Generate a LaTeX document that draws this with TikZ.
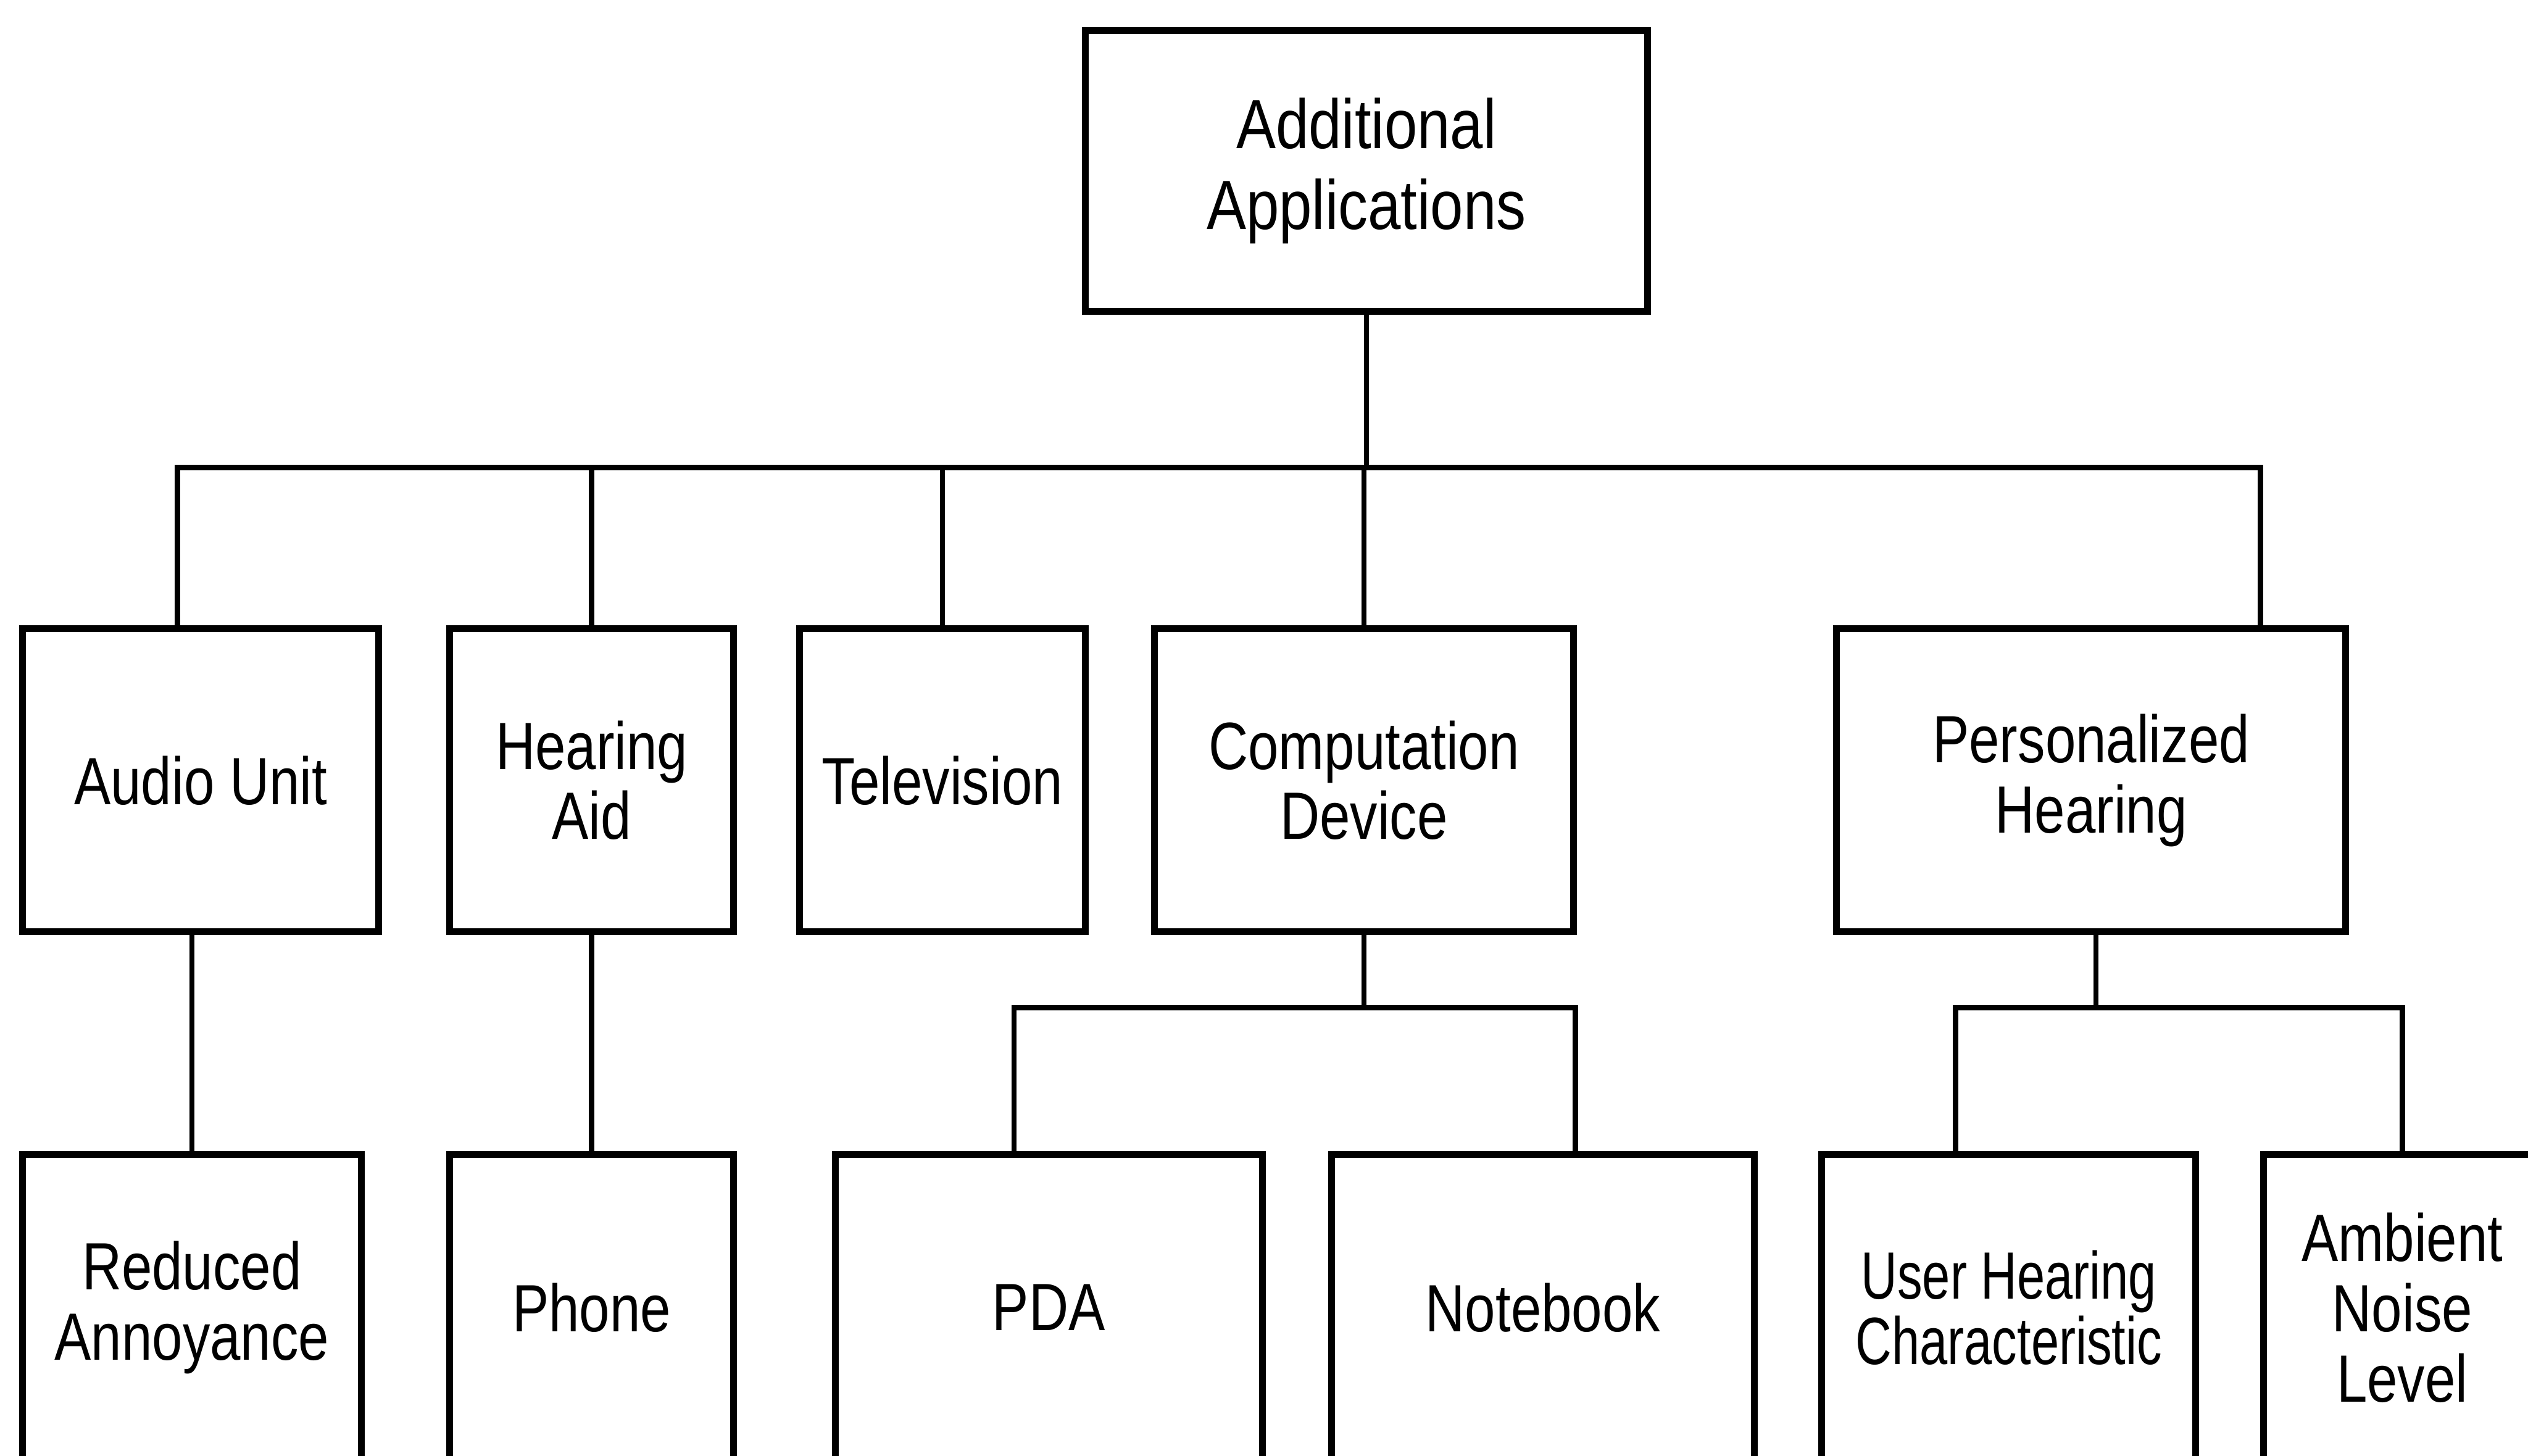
\documentclass[tikz,border=0pt]{standalone}
\usepackage{fontspec}
\setmainfont[FakeStretch=0.82]{Liberation Sans}
\newfontfamily\topfont[FakeStretch=0.85]{Liberation Sans}
\newfontfamily\narrowfont[FakeStretch=0.75]{Liberation Sans}
\usepackage{tikz}
\usetikzlibrary{positioning, calc}

\begin{document}
\begin{tikzpicture}[line width=0.95pt, box/.style={draw, rectangle, line width=1.2pt, inner sep=0pt, align=center, minimum height=1.88cm, font=\fontsize{11.8}{12.4}\selectfont}, leaf/.style={box, minimum height=1.9cm}]
\useasboundingbox (0,0) rectangle (15.68,9.03);
\node[box, minimum width=3.49cm, minimum height=1.74cm, font=\topfont\fontsize{12.3}{14.2}\selectfont] (APPS) at (8.475,7.97) {Additional\\Applications};
\node[box, minimum width=2.21cm] (AUDIO)   at (1.245,4.19) {Audio Unit};
\node[box, minimum width=1.76cm] (HEARING) at (3.67,4.19)  {Hearing\\Aid};
\node[box, minimum width=1.77cm] (TV)      at (5.845,4.19) {Television};
\node[box, minimum width=2.60cm] (COMP)    at (8.46,4.19)  {Computation\\Device};
\node[box, minimum width=3.16cm] (PERS)    at (12.97,4.19) {Personalized\\Hearing};
\node[leaf, minimum width=2.10cm] (REDUCED)  at (1.19,0.92)  {Reduced\\Annoyance};
\node[leaf, minimum width=1.76cm] (PHONE)    at (3.67,0.92)  {Phone};
\node[leaf, minimum width=2.65cm] (PDA)      at (6.505,0.92) {PDA};
\node[leaf, minimum width=2.62cm] (NOTEBOOK) at (9.57,0.92)  {Notebook};
\node[leaf, minimum width=2.32cm, font=\narrowfont\fontsize{11.8}{11.6}\selectfont] (USER) at (12.46,0.92) {User Hearing\\Characteristic};
\node[leaf, minimum width=1.72cm] (AMBIENT)  at (14.90,0.92) {Ambient\\Noise\\Level};
% buses
\coordinate (BUS1) at (0,6.13);
\coordinate (BUS2) at (0,2.78);
\draw (APPS.south) -- (APPS.south |- BUS1);
\draw ([xshift=-1.45mm]AUDIO.north) |- ([xshift=10.5mm]PERS.north |- BUS1) -- ([xshift=10.5mm]PERS.north);
\foreach \n in {HEARING, TV, COMP}
  \draw (\n.north) -- (\n.north |- BUS1);
\draw (REDUCED.north) -- (REDUCED.north |- AUDIO.south);
\draw (HEARING.south) -- (PHONE.north);
\draw (COMP.south) -- (COMP.south |- BUS2);
\draw ([xshift=-2.15mm]PDA.north) |- ([xshift=2mm]NOTEBOOK.north |- BUS2) -- ([xshift=2mm]NOTEBOOK.north);
\draw ([xshift=0.3mm]PERS.south) -- ([xshift=0.3mm]PERS.south |- BUS2);
\draw ([xshift=-3.3mm]USER.north) |- (AMBIENT.north |- BUS2) -- (AMBIENT.north);
\end{tikzpicture}
\end{document}
